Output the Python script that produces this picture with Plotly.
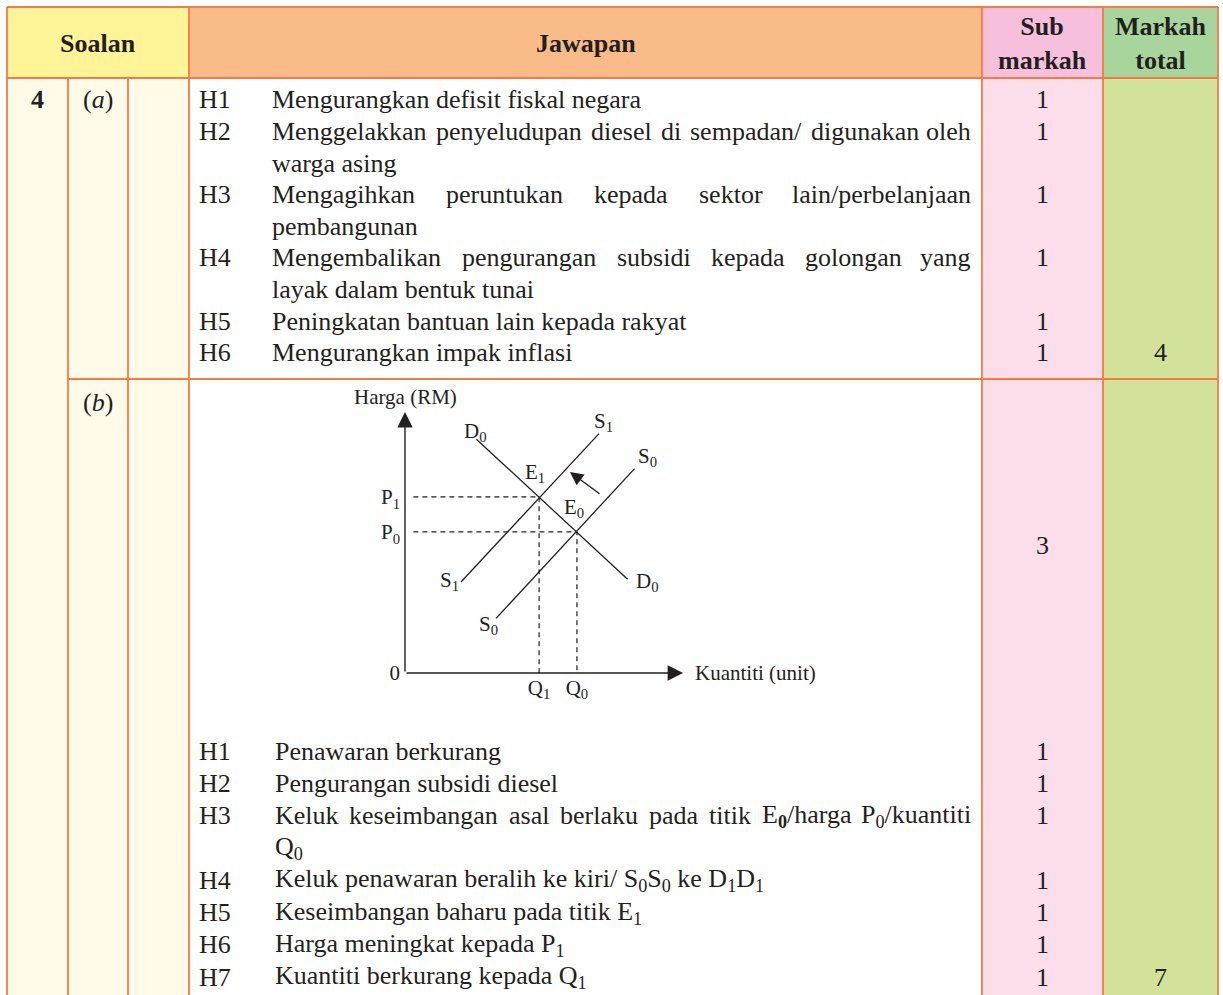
import re
import plotly.graph_objects as go

# ------------------------------------------------------------------ data
header_labels = ["Soalan", "Jawapan", "Sub<br>markah", "Markah<br>total"]
question_no = "4"
part_labels = ["(<i>a</i>)", "(<i>b</i>)"]

codes_a = ["H1", "H2", "H3", "H4", "H5", "H6"]
lines_a = [
    ["Mengurangkan defisit fiskal negara"],
    ["Menggelakkan penyeludupan diesel di sempadan/ digunakan oleh", "warga asing"],
    ["Mengagihkan peruntukan kepada sektor lain/perbelanjaan", "pembangunan"],
    ["Mengembalikan pengurangan subsidi kepada golongan yang", "layak dalam bentuk tunai"],
    ["Peningkatan bantuan lain kepada rakyat"],
    ["Mengurangkan impak inflasi"],
]
marks_a = [1, 1, 1, 1, 1, 1]
total_a = 4

codes_b = ["H1", "H2", "H3", "H4", "H5", "H6", "H7"]
lines_b = [
    ["Penawaran berkurang"],
    ["Pengurangan subsidi diesel"],
    ["Keluk keseimbangan asal berlaku pada titik E<sub><b>0</b></sub>/harga P<sub>0</sub>/kuantiti",
     "Q<sub>0</sub>"],
    ["Keluk penawaran beralih ke kiri/ S<sub>0</sub>S<sub>0</sub> ke D<sub>1</sub>D<sub>1</sub>"],
    ["Keseimbangan baharu pada titik E<sub>1</sub>"],
    ["Harga meningkat kepada P<sub>1</sub>"],
    ["Kuantiti berkurang kepada Q<sub>1</sub>"],
]
marks_b = [1, 1, 1, 1, 1, 1, 1]
diagram_mark = 3
total_b = 7

# diagram values (quantity, price)
Q1, Q0 = 4.79, 6.14
P1, P0 = 6.29, 5.04
d0_q = [2.55, 7.95]
d0_p = [8.35, 3.35]
s1_q = [2.00, 6.93]
s1_p = [3.25, 8.55]
s0_q = [3.25, 8.20]
s0_p = [1.95, 7.30]
shift_from = [7.00, 6.36]
shift_to = [5.89, 7.18]
q_axis_max = 9.93
p_axis_max = 9.32
y_title = "Harga (RM)"
x_title = "Kuantiti (unit)"

# ------------------------------------------------------------------ style
W, H = 1223, 995
FONT = "Liberation Serif, Times New Roman, serif"
INK = "#231f20"
BORDER = "#f47b45"
col_x = [7, 68, 128, 189, 982, 1103, 1218]
TOP, HEAD_BOT, ROWB_TOP, BOT = 7, 78, 379, 1000
SIZE = 26
DSIZE = 21
PXU = 28.0  # pixels per diagram unit
X0_PX, Y0_PX = 405, 673
XR, YR = 15, 10

TIMES = {' ': 250, '/': 278, '(': 333, ')': 333, '0': 500, '1': 500,
         'A': 722, 'B': 667, 'C': 667, 'D': 722, 'E': 611, 'F': 556, 'G': 722, 'H': 722,
         'I': 333, 'J': 389, 'K': 722, 'L': 611, 'M': 889, 'N': 722, 'O': 722, 'P': 556,
         'Q': 722, 'R': 667, 'S': 556, 'T': 611, 'U': 722, 'V': 722, 'W': 944,
         'a': 444, 'b': 500, 'c': 444, 'd': 500, 'e': 444, 'f': 333, 'g': 500, 'h': 500,
         'i': 278, 'j': 278, 'k': 500, 'l': 278, 'm': 778, 'n': 500, 'o': 500, 'p': 500,
         'q': 500, 'r': 333, 's': 389, 't': 278, 'u': 500, 'v': 500, 'w': 722, 'x': 500,
         'y': 500, 'z': 444}


def text_width(s, size):
    w, sub = 0.0, False
    for tok in re.split(r'(<[^>]+>)', s):
        if tok.startswith('<'):
            if tok == '<sub>':
                sub = True
            elif tok == '</sub>':
                sub = False
            continue
        for ch in tok:
            w += TIMES.get(ch, 500) / 1000 * size * (0.7 if sub else 1)
    return w


def px(x):
    return x / W


def py(y):
    return 1 - y / H


fig = go.Figure()
annotations = []
shapes = []


def txt(x, y, s, size=SIZE, xanchor='left', bold=False):
    annotations.append(dict(
        x=px(x), y=py(y), xref='paper', yref='paper', text=(f"<b>{s}</b>" if bold else s),
        showarrow=False, xanchor=xanchor, yanchor='middle',
        font=dict(family=FONT, size=size, color=INK), borderpad=0))


def rect(x0, y0, x1, y1, color):
    shapes.append(dict(type='rect', xref='paper', yref='paper', x0=px(x0), y0=py(y0),
                       x1=px(x1), y1=py(y1), fillcolor=color, line=dict(width=0),
                       layer='below'))


def line(x0, y0, x1, y1):
    shapes.append(dict(type='line', xref='paper', yref='paper', x0=px(x0), y0=py(y0),
                       x1=px(x1), y1=py(y1), line=dict(color=BORDER, width=1.8),
                       layer='below'))


# backgrounds
head_cols = ["#fff497", "#f9bb87", "#f6bfdb", "#a8d59b"]
body_cols = ["#fffbe8", "#ffffff", "#fcdeea", "#d2e29b"]
spans = [(col_x[0], col_x[3]), (col_x[3], col_x[4]), (col_x[4], col_x[5]), (col_x[5], col_x[6])]
for (a, b), hc, bc in zip(spans, head_cols, body_cols):
    rect(a, TOP, b, HEAD_BOT, hc)
    rect(a, HEAD_BOT, b, BOT, bc)

# borders
line(col_x[0], TOP, col_x[6], TOP)
line(col_x[0], HEAD_BOT, col_x[6], HEAD_BOT)
line(col_x[1], ROWB_TOP, col_x[6], ROWB_TOP)
for i, x in enumerate(col_x):
    y0 = HEAD_BOT if i in (1, 2) else TOP
    line(x, y0, x, BOT)

# header text
hx = [(a + b) / 2 for a, b in spans]
for x, lab in zip(hx, header_labels):
    txt(x, 43, lab, xanchor='center', bold=True)

txt((col_x[0] + col_x[1]) / 2, 100, question_no, xanchor='center', bold=True)
txt((col_x[1] + col_x[2]) / 2, 100, part_labels[0], xanchor='center')
txt((col_x[1] + col_x[2]) / 2, 402, part_labels[1], xanchor='center')

SUB_X = (col_x[4] + col_x[5]) / 2
TOT_X = (col_x[5] + col_x[6]) / 2


def write_block(codes, paras, marks, y_start, step, code_x, text_x, right_x):
    k = 0
    last_y = y_start
    for code, para, m in zip(codes, paras, marks):
        y_first = y_start + k * step
        txt(code_x, y_first, code)
        txt(SUB_X, y_first, str(m), xanchor='center')
        for j, ln in enumerate(para):
            y = y_start + k * step
            last_y = y
            justify = len(para) > 1 and j < len(para) - 1
            if not justify:
                txt(text_x, y, ln)
            else:
                words = ln.split(' ')
                ws = [text_width(w, SIZE) for w in words]
                gap = (right_x - text_x - sum(ws)) / (len(words) - 1)
                xpos = text_x
                for wi, (w, ww) in enumerate(zip(words, ws)):
                    if wi == len(words) - 1:
                        txt(right_x, y, w, xanchor='right')
                    else:
                        txt(xpos, y, w)
                    xpos += ww + gap
            k += 1
    return last_y


ya = write_block(codes_a, lines_a, marks_a, 100, 31.6, 198, 271, 972)
txt(TOT_X, ya, str(total_a), xanchor='center')
yb = write_block(codes_b, lines_b, marks_b, 751, 32.3, 198, 274, 972)
txt(TOT_X, yb, str(total_b), xanchor='center')
txt(SUB_X, 545, str(diagram_mark), xanchor='center')

# ------------------------------------------------------------------ diagram
lk = dict(color=INK, width=1.3)
fig.add_trace(go.Scatter(x=d0_q, y=d0_p, mode='lines', line=lk, hoverinfo='skip'))
fig.add_trace(go.Scatter(x=s1_q, y=s1_p, mode='lines', line=lk, hoverinfo='skip'))
fig.add_trace(go.Scatter(x=s0_q, y=s0_p, mode='lines', line=lk, hoverinfo='skip'))
dk = dict(color=INK, width=1.2, dash='5px,4px')
fig.add_trace(go.Scatter(x=[0.3, Q1, Q1], y=[P1, P1, 0], mode='lines', line=dk, hoverinfo='skip'))
fig.add_trace(go.Scatter(x=[0.3, Q0, Q0], y=[P0, P0, 0], mode='lines', line=dk, hoverinfo='skip'))

arrow_common = dict(xref='x', yref='y', axref='x', ayref='y', showarrow=True, text='',
                    arrowcolor=INK, standoff=0)
annotations.append(dict(x=0, y=p_axis_max, ax=0, ay=0, arrowhead=2, arrowsize=2.2,
                        arrowwidth=1.4, **arrow_common))
annotations.append(dict(x=q_axis_max, y=0, ax=0, ay=0, arrowhead=2, arrowsize=2.2,
                        arrowwidth=1.4, **arrow_common))
annotations.append(dict(x=shift_to[0], y=shift_to[1], ax=shift_from[0], ay=shift_from[1],
                        arrowhead=2, arrowsize=1.9, arrowwidth=1.4, **arrow_common))


def dlabel(x, y, s, xanchor='center'):
    annotations.append(dict(x=x, y=y, xref='x', yref='y', text=s, showarrow=False,
                            xanchor=xanchor, yanchor='middle',
                            font=dict(family=FONT, size=DSIZE, color=INK)))


dlabel(2.5, 8.6, "D<sub>0</sub>")
dlabel(7.1, 8.95, "S<sub>1</sub>")
dlabel(8.65, 7.7, "S<sub>0</sub>")
dlabel(4.65, 7.15, "E<sub>1</sub>")
dlabel(6.05, 5.9, "E<sub>0</sub>")
dlabel(1.6, 3.3, "S<sub>1</sub>")
dlabel(8.65, 3.25, "D<sub>0</sub>")
dlabel(2.97, 1.7, "S<sub>0</sub>")
dlabel(0, 9.85, y_title)
dlabel(10.3, 0, x_title, xanchor='left')

fig.update_layout(
    width=W, height=H, margin=dict(l=0, r=0, t=0, b=0, pad=0, autoexpand=False),
    autosize=False,
    paper_bgcolor='white', plot_bgcolor='rgba(0,0,0,0)', showlegend=False,
    xaxis=dict(domain=[X0_PX / W, (X0_PX + XR * PXU) / W], range=[0, XR], showgrid=False,
               zeroline=False, showline=False, ticks='', tickvals=[Q1, Q0],
               ticktext=["Q<sub>1</sub>", "Q<sub>0</sub>"], automargin=False,
               tickfont=dict(family=FONT, size=DSIZE, color=INK), fixedrange=True),
    yaxis=dict(domain=[1 - Y0_PX / H, 1 - (Y0_PX - YR * PXU) / H], range=[0, YR],
               showgrid=False, zeroline=False, showline=False, ticks='',
               tickvals=[0, P0, P1], ticktext=["0", "P<sub>0</sub>", "P<sub>1</sub>"],
               ticklabelstandoff=4, automargin=False,
               tickfont=dict(family=FONT, size=DSIZE, color=INK), fixedrange=True),
    annotations=annotations, shapes=shapes,
)

fig.write_html("out.html", config={'displayModeBar': False},
               post_script="document.body.style.margin='0';document.body.style.overflow='hidden';")
